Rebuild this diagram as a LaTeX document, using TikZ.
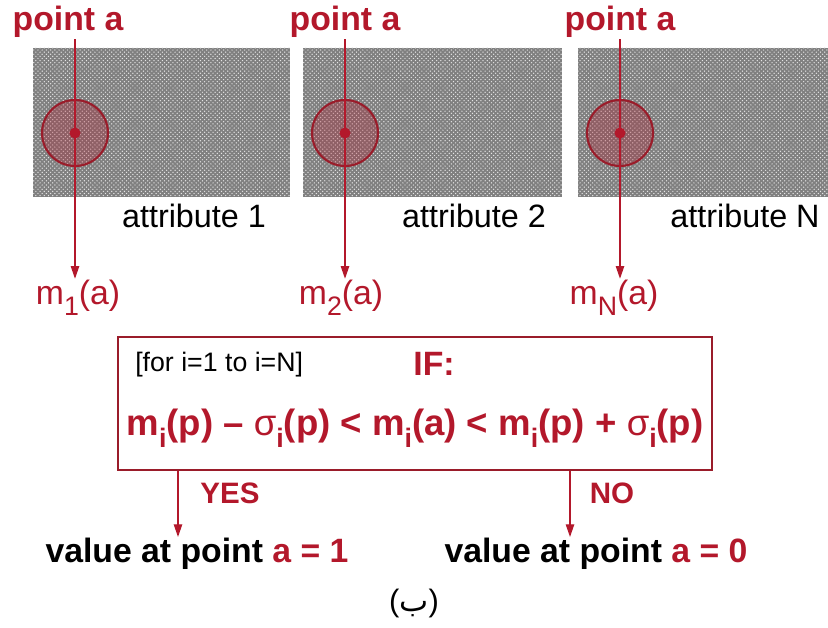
\documentclass[tikz,border=0pt]{standalone}
\usepackage{fontspec}
\setmainfont{Liberation Sans}
\newfontfamily\arabicfont[Script=Arabic]{DejaVu Sans}
\TeXXeTstate=1
\usepackage{xcolor}
\usepackage{tikz}
\usetikzlibrary{arrows.meta, positioning, patterns, calc}
\definecolor{mapred}{HTML}{B3182B}
\definecolor{ringred}{HTML}{9A1C2A}
\definecolor{texgray}{HTML}{808080}

% lowered subscript as in the original figure
\newcommand{\lowsub}[1]{\raisebox{-0.6ex}{\fontsize{19}{19}\selectfont #1}}

\tikzset{
    attrbox/.style={minimum width=#1, minimum height=149*0.025cm, inner sep=0pt,
        preaction={fill=texgray}, pattern=crosshatch dots, pattern color=gray!20},
    ring/.style={circle, minimum size=66*0.025cm, inner sep=0pt, draw=ringred,
        line width=1.5pt, fill=mapred, fill opacity=0.3},
    spot/.style={circle, minimum size=11*0.025cm, inner sep=0pt, fill=mapred},
    ptlabel/.style={font=\fontsize{24}{26}\selectfont\bfseries, text=mapred, inner sep=1pt},
    attrlabel/.style={font=\fontsize{23}{26}\selectfont, inner sep=1pt},
    mlabel/.style={font=\fontsize{24}{26}\selectfont, text=mapred, inner sep=1pt},
    condbox/.style={draw=ringred, line width=1pt, minimum width=594*0.025cm,
        minimum height=133*0.025cm, inner sep=0pt},
    flow/.style={-{Triangle[length=9pt, width=6pt]}, mapred, line width=0.9pt},
    answer/.style={font=\fontsize{21}{24}\selectfont\bfseries, text=mapred, inner sep=1pt},
    result/.style={font=\fontsize{24}{27}\selectfont\bfseries, inner sep=1pt},
}

\begin{document}
\begin{tikzpicture}[x=0.025cm, y=-0.025cm]
    \useasboundingbox (0,0) rectangle (828,628);

    % attribute layers
    \node[attrbox=257*0.025cm] (att1) at (161.5,122.5) {};
    \node[attrbox=259*0.025cm] (att2) at (432.5,122.5) {};
    \node[attrbox=250*0.025cm] (att3) at (703,122.5) {};

    \node[attrlabel] (attname1) at (194,216) {attribute 1};
    \node[attrlabel] (attname2) at (474,216) {attribute 2};
    \node[attrlabel] (attname3) at (745,216) {attribute N};

    % neighbourhood windows round point a
    \node[ring] (win1) at (75,133) {};
    \node[ring] (win2) at (345,133) {};
    \node[ring] (win3) at (620,133) {};
    \node[spot] (pa1) at (win1) {};
    \node[spot] (pa2) at (win2) {};
    \node[spot] (pa3) at (win3) {};

    \node[ptlabel] (pt1) at (68,22) {point a};
    \node[ptlabel] (pt2) at (345,22) {point a};
    \node[ptlabel] (pt3) at (620,22) {point a};

    \node[mlabel] (m1) at (78,298) {m\lowsub{1}(a)};
    \node[mlabel] (m2) at (341,298) {m\lowsub{2}(a)};
    \node[mlabel] (m3) at (614,298) {m\lowsub{N}(a)};

    \draw[flow] (pt1.south -| pa1) -- (pa1 |- m1.north);
    \draw[flow] (pt2.south -| pa2) -- (pa2 |- m2.north);
    \draw[flow] (pt3.south -| pa3) -- (pa3 |- m3.north);

    % condition
    \node[condbox] (cond) at (415,403.5) {};
    \node[font=\fontsize{19}{22}\selectfont, anchor=west, inner sep=0pt] (loop) at (135,365) {[for i=1 to i=N]};
    \node[font=\fontsize{24}{26}\selectfont\bfseries, text=mapred, inner sep=0pt] (iflabel) at (434,364) {IF:};
    \node[font=\fontsize{26}{28}\selectfont\bfseries, text=mapred, inner sep=0pt] (rule) at (415,428)
        {m\lowsub{i}(p) – {\mdseries σ}\lowsub{i}(p) < m\lowsub{i}(a) < m\lowsub{i}(p) + {\mdseries σ}\lowsub{i}(p)};

    % outcomes
    \coordinate (yestip) at (178,537);
    \coordinate (notip) at (570,537);
    \draw[flow] (cond.south -| yestip) -- (yestip);
    \draw[flow] (cond.south -| notip) -- (notip);
    \node[answer] (yes) at (230,493) {YES};
    \node[answer] (no) at (612,493) {NO};

    \node[result] (val1) at (197,554) {value at point \textcolor{mapred}{a = 1}};
    \node[result] (val0) at (596,554) {value at point \textcolor{mapred}{a = 0}};

    \node[font=\fontsize{22}{25}\selectfont] (caption) at (414,603) {({\arabicfont\beginR ب\endR})};
\end{tikzpicture}
\end{document}
